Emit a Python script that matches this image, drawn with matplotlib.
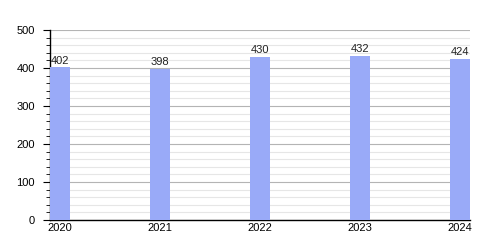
import matplotlib
matplotlib.use("Agg")
import matplotlib.pyplot as plt
from matplotlib.ticker import MultipleLocator

plt.rcParams["font.family"] = ["Liberation Sans", "DejaVu Sans"]

years = ["2020", "2021", "2022", "2023", "2024"]
values = [402, 398, 430, 432, 424]

fig = plt.figure(figsize=(5, 2.5), dpi=100)
ax = fig.add_axes([0.1, 0.12, 0.84, 0.76])
x = list(range(len(years)))
ax.bar(x, values, width=0.2, color="#99aaf8", zorder=3)
for xi, v in zip(x, values):
    ax.text(xi, v + 4, str(v), ha="center", va="bottom", fontsize=8, color="#222222", zorder=4)

ax.set_xlim(-0.1, 4.1)
ax.set_ylim(0, 500)
ax.set_xticks(x)
ax.set_xticklabels(years)
ax.yaxis.set_major_locator(MultipleLocator(100))
ax.yaxis.set_minor_locator(MultipleLocator(20))
ax.grid(which="major", axis="y", color="#b4b4b4", linewidth=0.8, zorder=0)
ax.grid(which="minor", axis="y", color="#e6e6e6", linewidth=0.8, zorder=0)
for s in ["top", "right"]:
    ax.spines[s].set_visible(False)
ax.spines["left"].set_linewidth(1)
ax.spines["bottom"].set_linewidth(1)
ax.tick_params(axis="y", which="major", length=5, labelsize=8, pad=6)
ax.tick_params(axis="y", which="minor", length=3)
ax.tick_params(axis="x", length=0, labelsize=8, pad=2)
fig.savefig("out.png", dpi=100)
